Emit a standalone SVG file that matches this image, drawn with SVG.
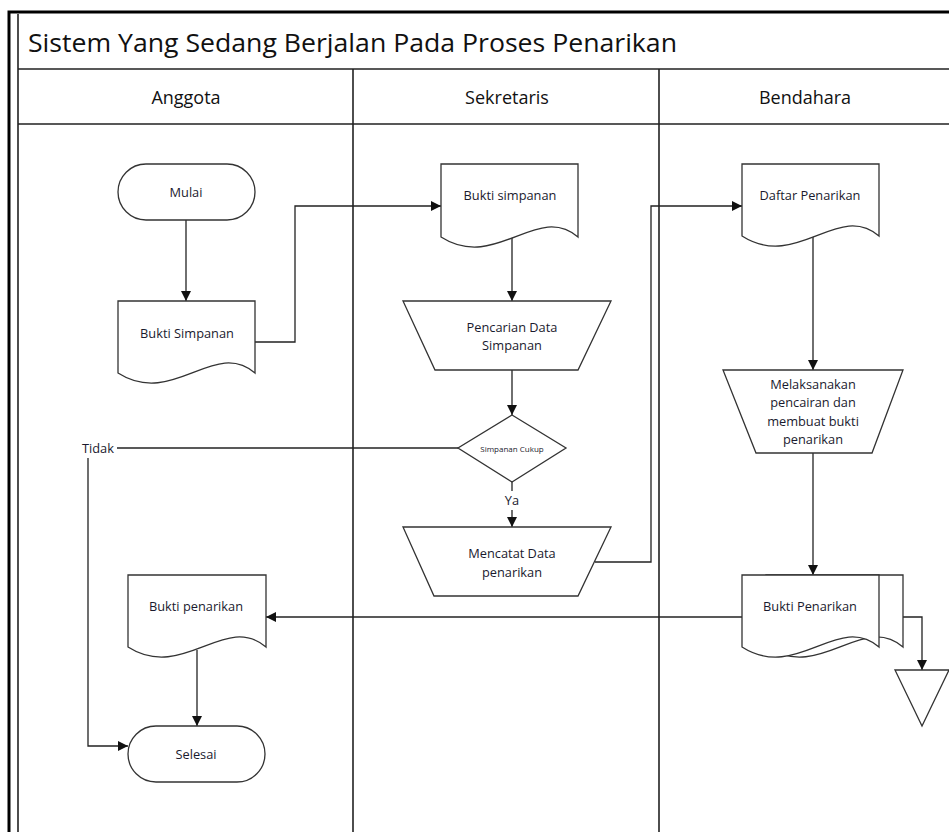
<svg xmlns="http://www.w3.org/2000/svg" width="949" height="832" viewBox="0 0 949 832">
<style>
.frame{stroke:#000;stroke-width:3;fill:none}
.lane{stroke:#222;stroke-width:1.6;fill:none}
.shape{fill:#fff;stroke:#333;stroke-width:1.3}
.conn{fill:none;stroke:#222;stroke-width:1.3}
.t{font-family:"Open Sans","Liberation Sans",sans-serif;font-size:12.8px;fill:#1a1a2e;text-anchor:middle;dominant-baseline:central}
.h{font-family:"Open Sans","Liberation Sans",sans-serif;font-size:18px;fill:#111;text-anchor:middle;dominant-baseline:central}
.title{font-family:"Open Sans","Liberation Sans",sans-serif;font-size:25px;fill:#111}
</style>
<defs>
<marker id="arr" viewBox="0 0 10 10" refX="10" refY="5" markerWidth="10" markerHeight="10" markerUnits="userSpaceOnUse" orient="auto">
<path d="M0,0 L10,5 L0,10 Z" fill="#111"/>
</marker>
</defs>
<rect width="949" height="832" fill="#fff"/>
<g id="swimlanes">
<path class="frame" d="M9,832 V12 H949"/>
<path class="lane" d="M18,832 V14 M18,69 H949 M18,124 H949 M353,69 V832 M659,69 V832"/>
<text class="title" x="28" y="52" textLength="649" lengthAdjust="spacingAndGlyphs">Sistem Yang Sedang Berjalan Pada Proses Penarikan</text>
<text class="h" x="186" y="97">Anggota</text>
<text class="h" x="507" y="97">Sekretaris</text>
<text class="h" x="805" y="97">Bendahara</text>
</g>
<g id="connectors">
<path class="conn" d="M186,220 V301" marker-end="url(#arr)"/>
<path class="conn" d="M255,342 H295 V206 H441" marker-end="url(#arr)"/>
<path class="conn" d="M512,235 V301" marker-end="url(#arr)"/>
<path class="conn" d="M512,370 V415" marker-end="url(#arr)"/>
<path class="conn" d="M458,448 H117"/>
<text class="t" x="98" y="448">Tidak</text>
<path class="conn" d="M88,458 V746 H128" marker-end="url(#arr)"/>
<path class="conn" d="M512,482 V491"/>
<text class="t" x="512" y="500">Ya</text>
<path class="conn" d="M512,510 V527" marker-end="url(#arr)"/>
<path class="conn" d="M595,562 H651 V206 H742" marker-end="url(#arr)"/>
<path class="conn" d="M813,236 V370" marker-end="url(#arr)"/>
<path class="conn" d="M813,453 V575" marker-end="url(#arr)"/>
<path class="conn" d="M742,617 H266" marker-end="url(#arr)"/>
<path class="conn" d="M903,617 H922 V670" marker-end="url(#arr)"/>
<path class="conn" d="M197,650 V726" marker-end="url(#arr)"/>
</g>
<g id="mulai">
<rect class="shape" x="118" y="164" width="137" height="56" rx="28"/>
<text class="t" x="186" y="192">Mulai</text>
</g>
<g id="bukti-simpanan-anggota">
<path class="shape" d="M118,301 H255 V373 C214,338 173,408 118,373 Z"/>
<text class="t" x="187" y="333">Bukti Simpanan</text>
</g>
<g id="bukti-simpanan-sekretaris">
<path class="shape" d="M441,164 H578 V237 C537,202 496,272 441,237 Z"/>
<text class="t" x="510" y="195">Bukti simpanan</text>
</g>
<g id="pencarian">
<path class="shape" d="M403,301 H611 L578,370 H435 Z"/>
<text class="t" x="512" y="327">Pencarian Data</text>
<text class="t" x="512" y="345">Simpanan</text>
</g>
<g id="simpanan-cukup">
<path class="shape" d="M512,415 L566,448 L512,482 L458,448 Z"/>
<text class="t" x="512" y="448" style="font-size:8px">Simpanan Cukup</text>
</g>
<g id="mencatat">
<path class="shape" d="M403,527 H611 L578,596 H434 Z"/>
<text class="t" x="512" y="553">Mencatat Data</text>
<text class="t" x="512" y="572">penarikan</text>
</g>
<g id="daftar-penarikan">
<path class="shape" d="M742,164 H879 V236 C838,201 797,271 742,236 Z"/>
<text class="t" x="810" y="195">Daftar Penarikan</text>
</g>
<g id="melaksanakan">
<path class="shape" d="M723,370 H903 L872,453 H756 Z"/>
<text class="t" x="813" y="384">Melaksanakan</text>
<text class="t" x="813" y="402">pencairan dan</text>
<text class="t" x="813" y="421">membuat bukti</text>
<text class="t" x="813" y="439">penarikan</text>
</g>
<g id="bukti-penarikan-bendahara">
<path class="shape" d="M766,575 H903 V647 C862,612 821,682 766,647 Z"/>
<path class="shape" d="M742,575 H879 V647 C838,612 797,682 742,647 Z"/>
<text class="t" x="810" y="606">Bukti Penarikan</text>
</g>
<g id="arsip">
<path class="shape" d="M895,670 H949 L922,726 Z"/>
</g>
<g id="bukti-penarikan-anggota">
<path class="shape" d="M128,575 H266 V647 C225,612 183,682 128,647 Z"/>
<text class="t" x="196" y="606">Bukti penarikan</text>
</g>
<g id="selesai">
<rect class="shape" x="128" y="726" width="137" height="56" rx="28"/>
<text class="t" x="196" y="754">Selesai</text>
</g>
</svg>
